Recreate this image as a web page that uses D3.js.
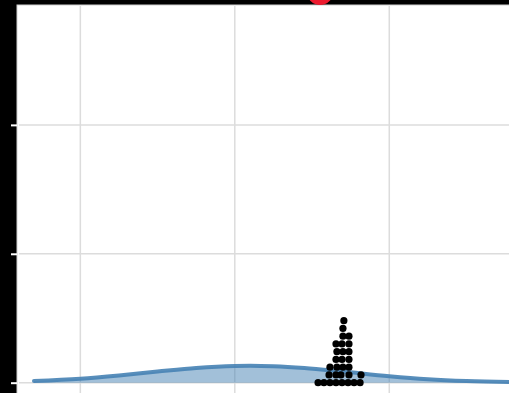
<!DOCTYPE html>
<html>
<head>
<meta charset="utf-8">
<script src="https://cdn.jsdelivr.net/npm/d3@7"></script>
<style>
  html, body { margin: 0; padding: 0; background: #000; }
  svg { display: block; }
</style>
</head>
<body>
<svg id="chart" width="509" height="393"></svg>
<script>
// Axis ticks (value units)
const xTicks = [-1, 0, 1];
const yTicks = [0, 1, 2];

// Smoothed density curve
const densityX = [-1.3, -1.0, -0.75, -0.5, -0.25, 0.0, 0.1, 0.25, 0.45, 0.7, 1.0, 1.25, 1.5, 1.85];
const densityY = [0.013, 0.031, 0.056, 0.086, 0.114, 0.130, 0.132, 0.128, 0.114, 0.086, 0.050, 0.027, 0.013, 0.004];

// Observations, with their stacking level in the dot plot
const obsX = [
  0.539, 0.577, 0.616, 0.655, 0.694, 0.733, 0.772, 0.811,
  0.610, 0.655, 0.687, 0.739, 0.817,
  0.616, 0.661, 0.700, 0.739,
  0.655, 0.694, 0.739,
  0.661, 0.700, 0.739,
  0.655, 0.694, 0.739,
  0.700, 0.739,
  0.700,
  0.706
];
const obsLevel = [
  0, 0, 0, 0, 0, 0, 0, 0,
  1, 1, 1, 1, 1,
  2, 2, 2, 2,
  3, 3, 3,
  4, 4, 4,
  5, 5, 5,
  6, 6,
  7,
  8
];

// Highlighted summary point
const markerX = [0.552];
const markerY = [3.03];

const W = 509, H = 393;
const margin = { left: 17, top: 5, right: 0, bottom: 0 };

const svg = d3.select("#chart");

const x = d3.scaleLinear().domain([-1.41, 1.775]).range([margin.left, W - margin.right]);
const y = d3.scaleLinear().domain([-0.08, 2.93]).range([H - margin.bottom, margin.top]);

// Panel
svg.append("rect")
  .attr("x", margin.left).attr("y", margin.top)
  .attr("width", W - margin.left + 10).attr("height", H - margin.top + 10)
  .attr("fill", "#fff")
  .attr("stroke", "#d0d0d0").attr("stroke-width", 1);

// Grid
const grid = svg.append("g");
grid.selectAll("line.v").data(xTicks).join("line")
  .attr("class", "v")
  .attr("x1", d => x(d)).attr("x2", d => x(d))
  .attr("y1", margin.top + 1).attr("y2", H)
  .attr("stroke", "#dcdcdc").attr("stroke-width", 1.5);
grid.selectAll("line.h").data(yTicks).join("line")
  .attr("class", "h")
  .attr("x1", margin.left + 2).attr("x2", W)
  .attr("y1", d => y(d)).attr("y2", d => y(d))
  .attr("stroke", "#dcdcdc").attr("stroke-width", 1.5);

// Left axis ticks (white on the dark margin)
const yAxis = d3.axisLeft(y).tickValues(yTicks).tickSize(6).tickFormat("");
const ax = svg.append("g").attr("transform", `translate(${margin.left},0)`).call(yAxis);
ax.select(".domain").remove();
ax.selectAll(".tick line").attr("stroke", "#fff").attr("stroke-width", 2);

// Density
const pts = densityX.map((v, i) => [v, densityY[i]]);
const area = d3.area()
  .x(d => x(d[0])).y0(y(0)).y1(d => y(d[1]))
  .curve(d3.curveMonotoneX);
const line = d3.line()
  .x(d => x(d[0])).y(d => y(d[1]))
  .curve(d3.curveMonotoneX);

svg.append("path").datum(pts)
  .attr("d", area)
  .attr("fill", "steelblue").attr("fill-opacity", 0.5);
svg.append("path").datum(pts)
  .attr("d", line)
  .attr("fill", "none")
  .attr("stroke", "steelblue").attr("stroke-opacity", 0.9)
  .attr("stroke-width", 4).attr("stroke-linecap", "round");

// Dot plot
const r = 3.6, rowGap = 7.75;
svg.append("g").selectAll("circle").data(obsX).join("circle")
  .attr("cx", d => x(d))
  .attr("cy", (d, i) => y(0) - obsLevel[i] * rowGap)
  .attr("r", r)
  .attr("fill", "#000");

// Summary marker
svg.append("g").selectAll("circle").data(markerX).join("circle")
  .attr("cx", d => x(d))
  .attr("cy", (d, i) => y(markerY[i]))
  .attr("r", 13)
  .attr("fill", "#ec1a2e");
</script>
</body>
</html>
